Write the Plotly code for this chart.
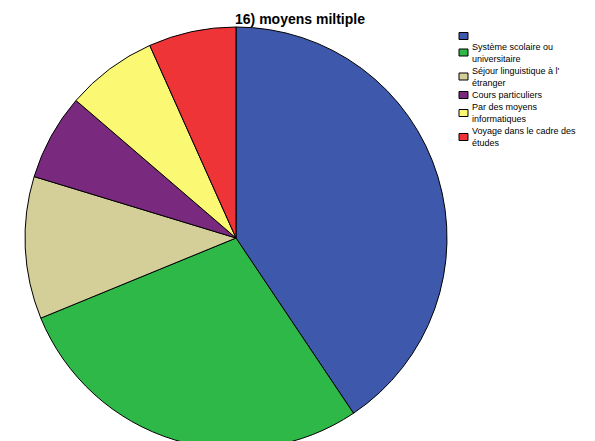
import plotly.graph_objects as go

# data
labels = [" ", "Système scolaire ou\nuniversitaire", "Séjour linguistique à l'\nétranger",
          "Cours particuliers", "Par des moyens\ninformatiques", "Voyage dans le cadre des\nétudes"]
values = [40.6, 28.2, 10.9, 6.6, 7.0, 6.7]
colors = ["#3E58AC", "#2EB848", "#D4CE99", "#7A2A7E", "#FBF873", "#EF3438"]

W, H = 595, 441
OFF = 8  # page body margin offset


def px(x):
    return (x - OFF) / W


def py(y):
    return 1 - (y - OFF) / H


# pie geometry (screen pixels)
cx, cy, r = 236, 238, 211
fig = go.Figure(go.Pie(
    labels=[l.replace("\n", " ") for l in labels], values=values, sort=False,
    direction="clockwise", rotation=0,
    marker=dict(colors=colors, line=dict(color="black", width=1)),
    textinfo="none", hoverinfo="label+percent", showlegend=False,
    domain=dict(x=[px(cx - r), px(cx + r)], y=[py(cy + r), py(cy - r)]),
))

# legend drawn manually (SPSS-style compact legend)
item_centers = [36, 52.5, 76.5, 95, 113, 137]
shapes, annos = [], []
for lab, col, yc in zip(labels, colors, item_centers):
    shapes.append(dict(type="rect", xref="paper", yref="paper",
                       x0=px(459), x1=px(468), y0=py(yc + 3.5), y1=py(yc - 3.5),
                       fillcolor=col, line=dict(color="black", width=1)))
    if lab.strip():
        annos.append(dict(text=lab.replace("\n", "<br>"), xref="paper", yref="paper",
                          x=px(471), y=py(yc), xanchor="left", yanchor="middle",
                          align="left", showarrow=False, borderpad=0,
                          font=dict(size=9, color="black")))

fig.update_layout(
    width=W, height=H,
    margin=dict(l=0, r=0, t=0, b=0),
    paper_bgcolor="white", plot_bgcolor="white",
    font=dict(family="Liberation Sans, Arial, sans-serif", color="black"),
    title=dict(text="<b>16) moyens miltiple</b>", x=px(300), xanchor="center",
               y=py(19), yanchor="middle", font=dict(size=14, color="black")),
    shapes=shapes, annotations=annos,
)
fig.write_html("out.html")
